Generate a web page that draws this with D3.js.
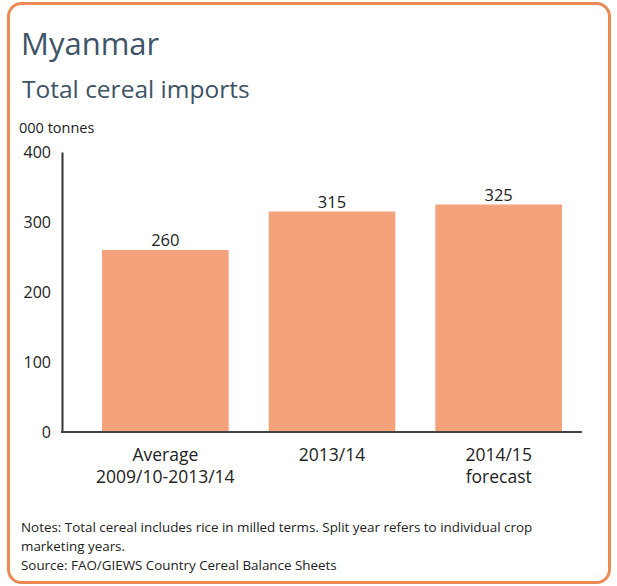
<!DOCTYPE html>
<html><head><meta charset="utf-8">
<script src="https://cdn.jsdelivr.net/npm/d3@7"></script>
<style>body{margin:0;background:#fff}svg{display:block}text{font-family:"Open Sans",sans-serif}</style>
</head><body><svg id="c" width="617" height="586"></svg>
<script>
const categories = [["Average","2009/10-2013/14"],["2013/14"],["2014/15","forecast"]];
const values = [260, 315, 325];
const yTicks = [0, 100, 200, 300, 400];
const title = "Myanmar";
const subtitle = "Total cereal imports";
const unit = "000 tonnes";
const notes = ["Notes: Total cereal includes rice in milled terms. Split year refers to individual crop","marketing years.","Source: FAO/GIEWS Country Cereal Balance Sheets"];

const svg = d3.select("#c");
svg.append("rect").attr("x",8.5).attr("y",3.5).attr("width",601).attr("height",579).attr("rx",13)
  .attr("fill","#fff").attr("stroke","#EC8A55").attr("stroke-width",3);

svg.append("text").attr("x",21).attr("y",55).attr("font-size",31).attr("fill","#3E5366").text(title);
svg.append("text").attr("x",22).attr("y",98).attr("font-size",24.5).attr("fill","#3E5366").text(subtitle);
svg.append("text").attr("x",19).attr("y",133).attr("font-size",14.5).attr("fill","#222").text(unit);

const x = d3.scaleBand().domain(d3.range(values.length)).range([82,582]).paddingInner(0.24).paddingOuter(0.12);
const y = d3.scaleLinear().domain([0,400]).range([432,152]);

svg.append("g").selectAll("rect").data(values).join("rect")
  .attr("x",(d,i)=>x(i)).attr("width",x.bandwidth())
  .attr("y",d=>y(d)).attr("height",d=>y(0)-y(d)).attr("fill","#F3A27B");

svg.append("g").selectAll("text").data(values).join("text")
  .attr("x",(d,i)=>x(i)+x.bandwidth()/2).attr("y",d=>y(d)-4)
  .attr("text-anchor","middle").attr("font-size",16.5).attr("fill","#222").text(d=>d);

const ya = svg.append("g").attr("transform","translate(62,0)")
  .call(d3.axisLeft(y).tickValues(yTicks).tickSize(0).tickPadding(11));
ya.select(".domain").attr("stroke","#333").attr("stroke-width",2);
ya.selectAll("text").attr("font-size",16).attr("fill","#222").attr("font-family","Open Sans, sans-serif");

svg.append("line").attr("x1",61).attr("x2",582).attr("y1",y(0)).attr("y2",y(0)).attr("stroke","#444").attr("stroke-width",2);

const cl = svg.append("g").selectAll("text").data(categories).join("text")
  .attr("text-anchor","middle").attr("font-size",17.5).attr("fill","#222")
  .attr("transform",(d,i)=>`translate(${x(i)+x.bandwidth()/2},461)`);
cl.selectAll("tspan").data(d=>d).join("tspan").attr("x",0).attr("dy",(d,j)=>j?22:0).text(d=>d);

svg.append("g").selectAll("text").data(notes).join("text")
  .attr("x",21).attr("y",(d,i)=>532+i*19).attr("font-size",13.4).attr("fill","#222").text(d=>d);
</script></body></html>
